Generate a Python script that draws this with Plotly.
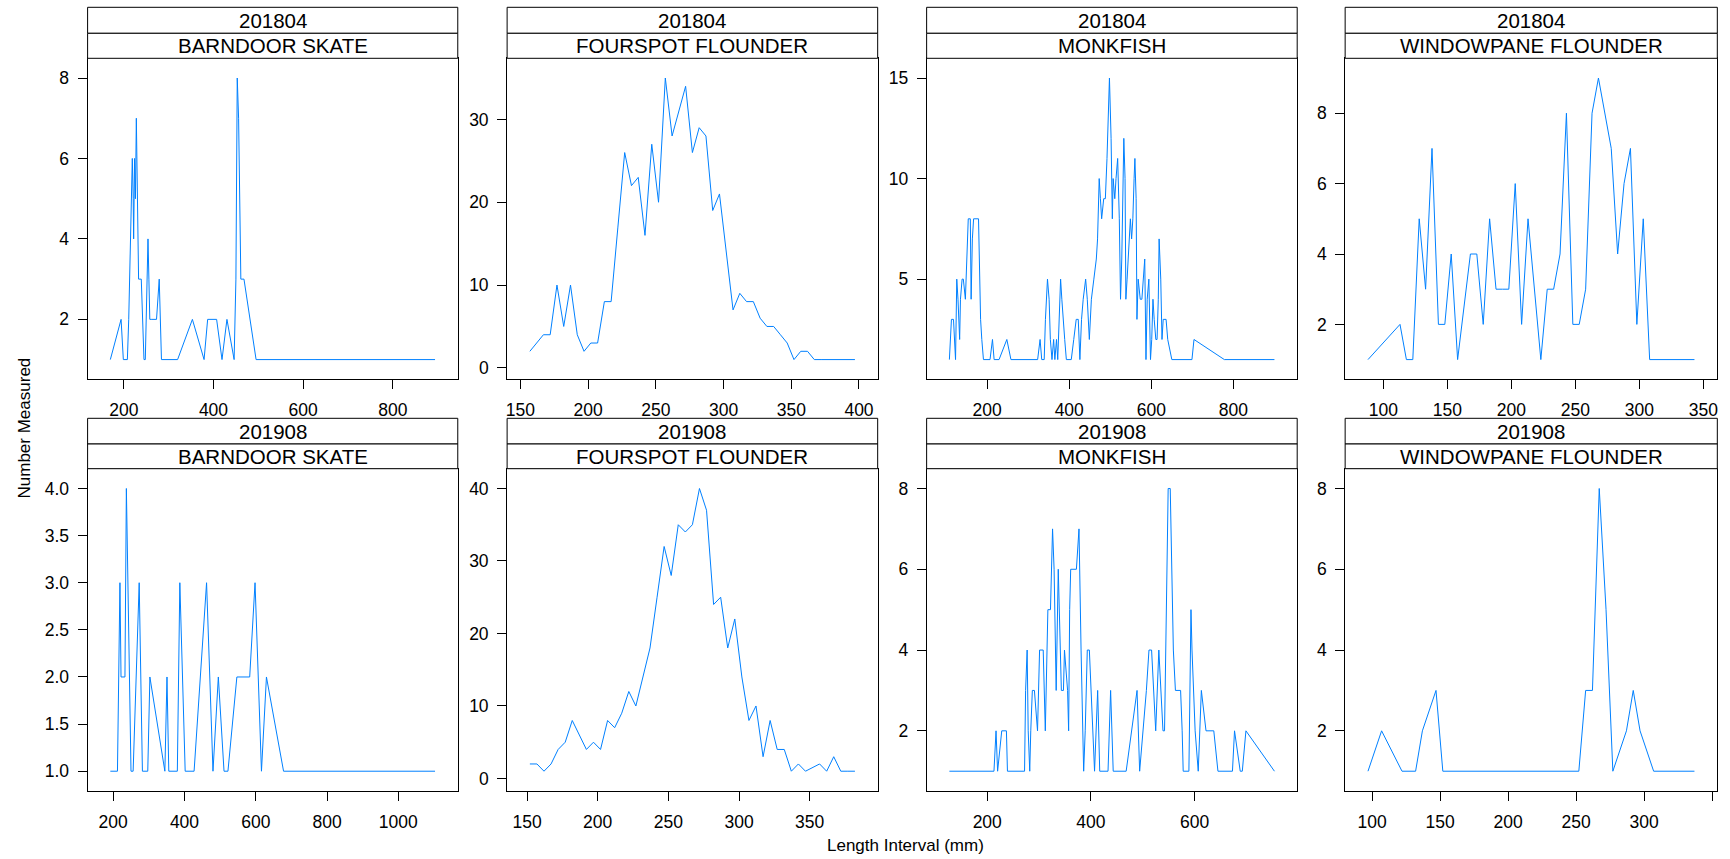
import plotly.graph_objects as go

# ---------------- data ----------------
surveys = ["201804", "201908"]
species = ["BARNDOOR SKATE", "FOURSPOT FLOUNDER", "MONKFISH", "WINDOWPANE FLOUNDER"]

bs_1804_len = [170,194,199,208,211,213,217,219,221,222,224,226,228,231,233,239,242,245,248,250,
               252,254,256,258,261,273,279,284,320,353,379,387,407,419,430,446,450,453,456,459,
               461,468,495,894]
bs_1804_n = [1,2,1,1,2,3,5,6,5,4,6,5,7,4,3,3,2,1,1,2,
             3,4,3,2,2,2,3,1,1,2,1,2,2,1,2,1,3,8,7,4,
             3,3,1,1]

ff_1804_len = [157,162,167,172,177,182,187,192,197,202,207,212,217,222,227,232,237,242,247,252,
               257,262,267,272,277,282,287,292,297,302,307,312,317,322,327,332,337,342,347,352,
               357,362,367,372,377,382,387,392,397]
ff_1804_n = [2,3,4,4,10,5,10,4,2,3,3,8,8,17,26,22,23,16,27,20,
             35,28,31,34,26,29,28,19,21,14,7,9,8,8,6,5,5,4,3,1,
             2,2,1,1,1,1,1,1,1]

mf_1804_len = [108,110,113,118,121,123,126,129,133,135,139,142,147,151,154,159,161,164,167,179,
               181,184,187,191,207,213,217,229,248,258,323,329,333,339,342,347,351,354,358,362,
               365,369,372,375,379,382,385,389,393,405,411,417,422,426,430,434,440,444,449,454,
               460,466,469,473,476,479,484,488,492,495,498,502,505,507,511,514,518,522,525,528,
               531,533,536,538,541,546,549,552,555,558,560,563,565,568,573,577,581,584,587,590,
               594,598,601,604,607,611,614,617,619,623,626,629,636,640,650,699,704,778,900]
mf_1804_n = [1,2,3,3,2,1,5,4,2,4,5,5,4,7,8,8,4,7,8,8,
             6,3,2,1,1,2,1,1,2,1,1,2,1,1,3,5,4,2,1,2,
             1,2,1,3,5,4,3,2,1,1,2,3,3,1,3,4,5,4,2,4,
             5,6,7,10,9,8,9,9,11,13,15,12,8,10,9,10,11,8,4,6,
             10,12,10,4,5,7,8,7,8,10,11,9,3,5,4,4,5,6,1,4,
             5,1,2,4,3,2,2,4,7,5,2,3,3,2,1,1,2,1,1]

wf_1804_len = [88,113,118,123,128,133,138,143,148,153,158,168,173,178,183,188,193,198,203,208,
               213,223,228,233,238,243,248,253,258,263,268,273,278,283,288,293,298,303,308,343]
wf_1804_n = [1,2,1,1,5,3,7,2,2,4,1,4,4,2,5,3,3,3,6,2,
             5,1,3,3,4,8,2,2,3,8,9,8,7,4,6,7,2,5,1,1]

bs_1908_len = [192,212,219,222,233,237,250,256,273,282,297,303,345,351,356,380,387,402,427,462,
               480,495,511,522,547,583,598,616,630,678,1103]
bs_1908_n = [1,1,3,2,2,4,1,1,3,1,1,2,1,2,1,1,3,1,1,3,
             1,2,1,1,2,2,3,1,2,1,1]

ff_1908_len = [152,157,162,167,172,177,182,187,192,197,202,207,212,217,222,227,232,237,242,247,
               252,257,262,267,272,277,282,287,292,297,302,307,312,317,322,327,332,337,342,347,
               357,362,367,372,377,382]
ff_1908_n = [2,2,1,2,4,5,8,6,4,5,4,8,7,9,12,10,14,18,25,32,
             28,35,34,35,40,37,24,25,18,22,14,8,10,3,8,4,4,1,2,1,
             2,1,3,1,1,1]

mf_1908_len = [127,213,217,220,228,237,239,272,274,277,279,282,284,287,291,297,301,308,312,317,
               322,326,329,333,337,341,343,347,349,355,357,359,361,372,377,381,386,389,393,397,
               400,404,407,413,417,433,438,443,468,489,494,507,512,517,525,531,539,542,547,549,
               553,557,559,563,573,576,578,589,591,593,595,598,601,607,610,613,622,637,645,673,
               677,688,692,699,754]
mf_1908_n = [1,1,2,1,2,2,1,1,3,4,2,1,2,3,3,2,4,4,2,5,
             5,7,6,3,6,4,3,3,4,3,2,5,6,6,7,4,1,2,4,4,
             3,2,1,3,1,1,3,1,1,3,1,3,4,4,2,4,2,2,7,8,
             8,5,4,3,3,2,1,1,4,5,4,3,2,1,2,3,2,2,1,1,
             2,1,1,2,1]

wf_1908_len = [97,107,122,132,137,147,152,252,257,262,267,272,277,287,292,297,307,337]
wf_1908_n = [1,2,1,1,2,3,1,1,3,3,8,5,1,2,3,2,1,1]

# tick values / labels per panel (row-major: 201804 row then 201908 row)
x_ticks = [
    [200,400,600,800], [150,200,250,300,350,400], [200,400,600,800], [100,150,200,250,300,350],
    [200,400,600,800,1000], [150,200,250,300,350], [200,400,600], [100,150,200,250,300,350],
]
x_ticktext = [
    ["200","400","600","800"], ["150","200","250","300","350","400"], ["200","400","600","800"],
    ["100","150","200","250","300","350"],
    ["200","400","600","800","1000"], ["150","200","250","300","350"], ["200","400","600"],
    ["100","150","200","250","300",""],
]
y_ticks = [
    [2,4,6,8], [0,10,20,30], [5,10,15], [2,4,6,8],
    [1.0,1.5,2.0,2.5,3.0,3.5,4.0], [0,10,20,30,40], [2,4,6,8], [2,4,6,8],
]
y_ticktext = [
    ["2","4","6","8"], ["0","10","20","30"], ["5","10","15"], ["2","4","6","8"],
    ["1.0","1.5","2.0","2.5","3.0","3.5","4.0"], ["0","10","20","30","40"], ["2","4","6","8"], ["2","4","6","8"],
]

panels = [
    (bs_1804_len, bs_1804_n), (ff_1804_len, ff_1804_n), (mf_1804_len, mf_1804_n), (wf_1804_len, wf_1804_n),
    (bs_1908_len, bs_1908_n), (ff_1908_len, ff_1908_n), (mf_1908_len, mf_1908_n), (wf_1908_len, wf_1908_n),
]

# ---------------- layout geometry (pixels) ----------------
W, H = 1730, 859
col_px = [(86.7, 457.3), (506.7, 877.7), (926.7, 1297.7), (1345.7, 1718.3)]
row_plot_px = [(58.3, 379.3), (468.7, 791.0)]
row_strip_px = [[(7.3, 33.3), (33.3, 58.3)], [(418.3, 444.0), (444.0, 468.7)]]

FONT = "Liberation Sans, Arial, sans-serif"
LINE_COL = "#0080ff"

def fx(p):
    return p / W

def fy(p):
    return 1 - p / H

def padded(vals, frac=0.07):
    lo, hi = min(vals), max(vals)
    d = (hi - lo) * frac
    return [lo - d, hi + d]

fig = go.Figure()
shapes = []
annotations = []

for i, (xs, ys) in enumerate(panels):
    r, c = divmod(i, 4)
    k = i + 1
    xa = "x" if k == 1 else f"x{k}"
    ya = "y" if k == 1 else f"y{k}"
    fig.add_trace(go.Scatter(x=xs, y=ys, mode="lines", xaxis=xa, yaxis=ya,
                             line=dict(color=LINE_COL, width=1), showlegend=False,
                             hoverinfo="x+y"))
    x0, x1 = col_px[c]
    y0, y1 = row_plot_px[r]
    common = dict(showgrid=False, zeroline=False, showline=True, mirror=True,
                  linecolor="black", linewidth=1, ticks="outside", ticklen=9,
                  tickwidth=1, tickcolor="black",
                  tickfont=dict(family=FONT, size=17.5, color="black"))
    fig.layout[("xaxis" if k == 1 else f"xaxis{k}")] = dict(
        domain=[fx(x0), fx(x1)], anchor=ya, range=padded(xs),
        tickmode="array", tickvals=x_ticks[i], ticktext=x_ticktext[i],
        ticklabelstandoff=6, **common)
    fig.layout[("yaxis" if k == 1 else f"yaxis{k}")] = dict(
        domain=[fy(y1), fy(y0)], anchor=xa, range=padded(ys),
        tickmode="array", tickvals=y_ticks[i], ticktext=y_ticktext[i],
        ticklabelstandoff=5, **common)

    # strips
    labels = [surveys[r], species[c]]
    for s, (sy0, sy1) in enumerate(row_strip_px[r]):
        shapes.append(dict(type="rect", xref="paper", yref="paper",
                           x0=fx(x0), x1=fx(x1), y0=fy(sy1), y1=fy(sy0),
                           line=dict(color="black", width=1), fillcolor="white", layer="above"))
        annotations.append(dict(text=labels[s], xref="paper", yref="paper",
                                x=fx((x0 + x1) / 2), y=fy((sy0 + sy1) / 2),
                                xanchor="center", yanchor="middle", showarrow=False,
                                font=dict(family=FONT, size=20.5, color="black")))

annotations.append(dict(text="Length Interval (mm)", xref="paper", yref="paper",
                        x=fx(906), y=fy(845), xanchor="center", yanchor="middle",
                        showarrow=False, font=dict(family=FONT, size=17, color="black")))
annotations.append(dict(text="Number Measured", xref="paper", yref="paper",
                        x=fx(23.5), y=fy(428), xanchor="center", yanchor="middle",
                        textangle=-90, showarrow=False,
                        font=dict(family=FONT, size=17, color="black")))

fig.update_layout(width=W, height=H, margin=dict(l=0, r=0, t=0, b=0),
                  paper_bgcolor="white", plot_bgcolor="white",
                  shapes=shapes, annotations=annotations,
                  font=dict(family=FONT, color="black"))

fig.write_html("out.html", config={"displayModeBar": False},
               post_script="document.body.style.margin='0';document.body.style.overflow='hidden';")
